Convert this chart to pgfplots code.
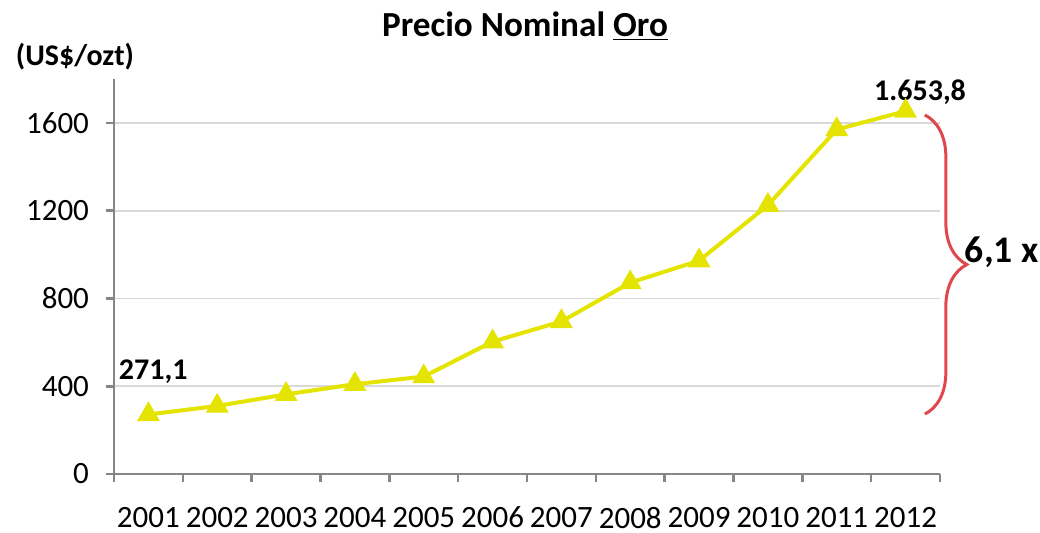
\documentclass[border=0pt]{standalone}
\usepackage{pgfplots}
\pgfplotsset{compat=1.18}
\usepackage{fontspec}
\setmainfont{Carlito}
\usetikzlibrary{decorations.pathreplacing}
\definecolor{goldyellow}{RGB}{228,228,0}
\definecolor{axisgray}{RGB}{134,134,134}
\definecolor{gridgray}{RGB}{217,217,217}
\definecolor{bracered}{RGB}{224,71,76}
\begin{document}
\begin{tikzpicture}
\useasboundingbox (-57pt,-29.5pt) rectangle (463pt,237pt);
\begin{axis}[
  scale only axis, width=413pt, height=197.5pt,
  at={(0,0)}, anchor=south west,
  xmin=-0.5, xmax=11.5, ymin=0, ymax=1800,
  clip=false,
  axis lines=left,
  axis line style={-, draw=axisgray, line width=1.3pt},
  tick align=outside,
  xtick={0,...,11},
  xticklabels={2001,2002,2003,2004,2005,2006,2007,2008,2009,2010,2011,2012},
  major x tick style={draw=none},
  minor xtick={-0.5,0.5,...,11.5},
  minor x tick style={draw=axisgray, line width=1.3pt},
  minor tick length=4pt,
  ytick={0,400,800,1200,1600},
  major y tick style={draw=axisgray, line width=1.3pt},
  major tick length=4pt,
  ymajorgrids,
  grid style={draw=gridgray, line width=0.9pt},
  tick label style={font=\fontsize{15.5}{18}\selectfont},
  /pgf/number format/assume math mode=true,
  /pgf/number format/1000 sep={},
  xticklabel style={yshift=-9pt},
  yticklabel style={xshift=-5pt},
]
\addplot[color=goldyellow, line width=2pt, mark=triangle*, mark size=4.6pt, mark options={solid}]
  coordinates {
  (0,271.1) (1,310) (2,363) (3,409) (4,444) (5,603)
  (6,695) (7,872) (8,972) (9,1225) (10,1570) (11,1653.8)
  };
\node[font=\bfseries\fontsize{15}{18}\selectfont] at (axis cs:0.07,465) {271,1};
\node[font=\bfseries\fontsize{15}{18}\selectfont] at (axis cs:11.21,1741) {1.653,8};
\draw[bracered, line width=1.5pt, decorate, decoration={brace, amplitude=21pt}]
  (axis cs:11.28,1636) -- (axis cs:11.28,273);
\node[font=\bfseries\fontsize{18.8}{22}\selectfont, anchor=west] at (axis cs:11.76,1012) {6,1 x};
\end{axis}
\node[font=\bfseries\fontsize{17.6}{21}\selectfont] at (205.5pt,224pt) {Precio Nominal \underline{Oro}};
\node[font=\bfseries\fontsize{15}{18}\selectfont] at (-19.5pt,208.5pt) {(US\$/ozt)};
\end{tikzpicture}
\end{document}
